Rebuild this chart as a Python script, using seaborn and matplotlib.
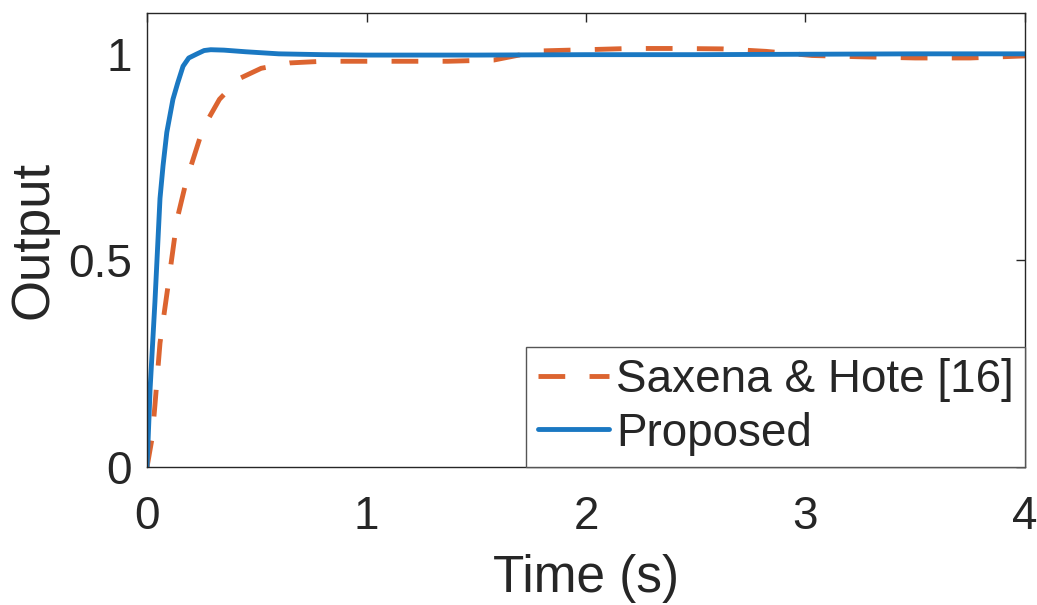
import numpy as np
import pandas as pd
import matplotlib
matplotlib.use("Agg")
import matplotlib.pyplot as plt
import seaborn as sns

# Step responses (time in seconds, normalised output)
time_proposed = [0, 0.014, 0.036, 0.059, 0.073, 0.09, 0.118, 0.14, 0.164, 0.19,
                 0.228, 0.26, 0.29, 0.35, 0.45, 0.6, 0.8, 1.0, 1.5, 2.0, 2.5,
                 3.0, 3.5, 4.0]
out_proposed = [0, 0.19, 0.40, 0.65, 0.73, 0.81, 0.89, 0.93, 0.97, 0.99,
                1.0, 1.008, 1.01, 1.009, 1.005, 1.0, 0.998, 0.997, 0.997, 0.998,
                0.998, 0.999, 1.0, 1.0]

time_saxena = [0, 0.023, 0.036, 0.059, 0.096, 0.137, 0.18, 0.255, 0.33, 0.42,
               0.52, 0.65, 0.8, 0.91, 1.17, 1.37, 1.58, 1.79, 2.0, 2.2, 2.41,
               2.62, 2.82, 3.03, 3.24, 3.5, 3.75, 4.0]
out_saxena = [0, 0.07, 0.15, 0.30, 0.44, 0.60, 0.695, 0.82, 0.89, 0.94,
              0.965, 0.978, 0.982, 0.982, 0.982, 0.982, 0.985, 1.007, 1.01,
              1.013, 1.013, 1.012, 1.006, 0.996, 0.993, 0.99, 0.99, 0.995]

series_names = ["Saxena & Hote [16]", "Proposed"]
x_ticks = [0, 1, 2, 3, 4]
y_ticks = [0, 0.5, 1]
y_tick_labels = ["0", "0.5", "1"]

df = pd.concat([
    pd.DataFrame({"Time": time_saxena, "Output": out_saxena,
                  "Method": series_names[0]}),
    pd.DataFrame({"Time": time_proposed, "Output": out_proposed,
                  "Method": series_names[1]}),
], ignore_index=True)

sns.set_theme(style="white")
plt.rcParams["font.family"] = ["Liberation Sans", "DejaVu Sans"]
ink = "#262626"

fig = plt.figure(figsize=(10.37, 6.05), dpi=100)
ax = fig.add_axes([0.1418, 0.2281, 0.9884 - 0.1418, 0.9793 - 0.2281])

sns.lineplot(data=df, x="Time", y="Output", hue="Method", style="Method",
             hue_order=series_names, style_order=series_names,
             palette={series_names[0]: "#DC6430", series_names[1]: "#1A78C2"},
             dashes={series_names[0]: (5.5, 5.0), series_names[1]: ""},
             linewidth=3.5, sort=False, estimator=None, ax=ax)

ax.set_xlim(0, 4)
ax.set_ylim(0, 1.1)
ax.set_xticks(x_ticks)
ax.set_xticklabels([str(t) for t in x_ticks])
ax.set_yticks(y_ticks)
ax.set_yticklabels(y_tick_labels)

for side in ["left", "right", "top", "bottom"]:
    ax.spines[side].set_visible(True)
    ax.spines[side].set_color(ink)
    ax.spines[side].set_linewidth(1.0)

ax.tick_params(axis="both", which="major", direction="in", length=6.5,
               width=1.0, color=ink, labelcolor=ink, labelsize=33,
               top=True, right=True)
ax.tick_params(axis="x", pad=20)
ax.tick_params(axis="y", pad=11)

ax.set_xlabel("Time (s)", fontsize=37, color=ink, labelpad=11)
ax.set_ylabel("Output", fontsize=38, color=ink, labelpad=7)

leg = ax.legend(loc="lower right", fontsize=33, frameon=True, fancybox=False,
                framealpha=1.0, edgecolor="#555555", borderaxespad=0.0,
                borderpad=0.25, handlelength=1.55, handletextpad=0.15,
                labelspacing=0.2)
leg.get_frame().set_linewidth(1.0)
for line in leg.get_lines():
    line.set_linewidth(3.5)

fig.savefig("out.png", dpi=100)
